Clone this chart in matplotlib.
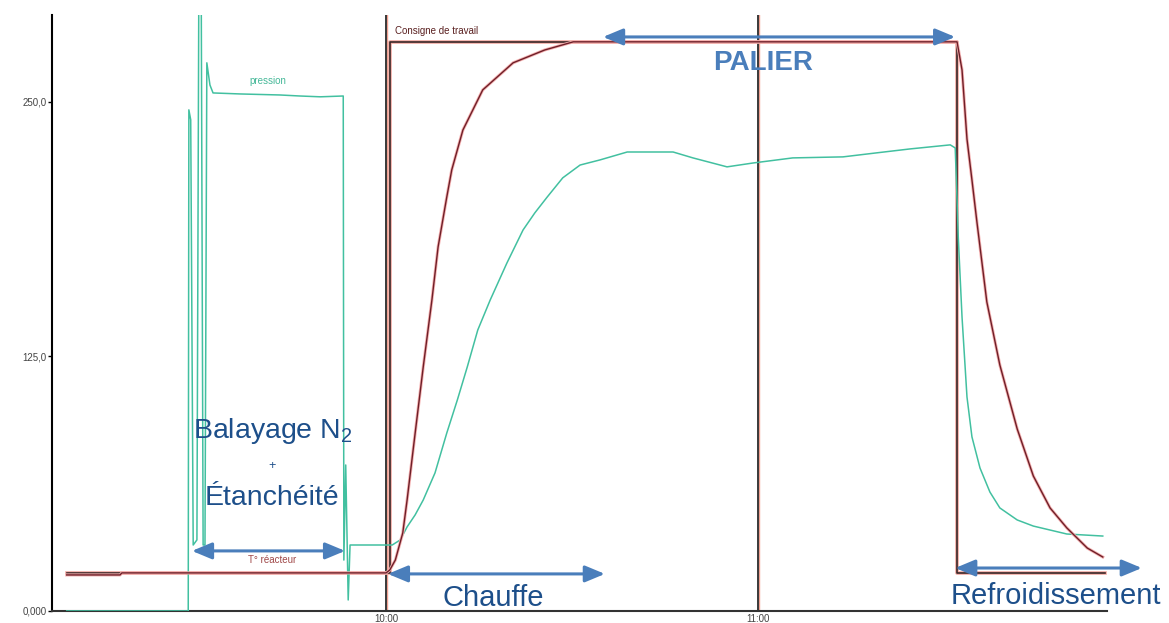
import matplotlib
matplotlib.use("Agg")
import matplotlib.pyplot as plt
from matplotlib.ticker import FuncFormatter

plt.rcParams['font.family'] = ['Liberation Sans', 'DejaVu Sans']
plt.rcParams['mathtext.fontset'] = 'custom'
plt.rcParams['mathtext.rm'] = 'Liberation Sans'

# time in minutes since midnight
t_consigne = [548.5, 600.6, 600.6, 692.1, 692.1, 716.0]
v_consigne = [18.7, 18.7, 279.5, 279.5, 18.7, 18.7]

t_reacteur = [548.5, 557.1, 557.4, 600.0, 600.6, 601.5, 602.7, 603.4, 604.7, 606.0,
              607.4, 608.4, 609.8, 610.6, 612.4, 615.6, 620.5, 625.6, 630.2, 692.1,
              692.9, 693.7, 694.5, 695.3, 696.9, 699.0, 701.8, 704.4, 707.1, 709.8,
              713.1, 715.6]
v_reacteur = [17.7, 17.7, 18.7, 18.7, 20.1, 25.0, 38.3, 54.5, 87.4, 119.8,
              152.7, 178.8, 203.3, 216.6, 236.2, 255.9, 269.2, 275.5, 279.5, 279.5,
              265.7, 231.8, 211.7, 191.1, 151.8, 120.8, 89.4, 66.3, 50.6, 40.8,
              30.9, 26.5]

t_pression = [548.5, 568.1, 568.2, 568.5, 568.9, 569.5, 569.8, 570.2, 570.5, 570.8,
              571.1, 571.6, 572.1, 576.5, 582.9, 586.1, 589.4, 593.1, 593.2, 593.5,
              593.9, 594.2, 601.0, 602.3, 603.4, 604.7, 606.0, 607.9, 609.8, 611.5,
              613.1, 614.8, 616.8, 619.5, 622.1, 624.0, 626.0, 628.5, 631.3, 634.5,
              638.9, 646.3, 649.5, 655.0, 659.2, 665.6, 673.7, 679.2, 684.5, 691.0,
              691.8, 692.1, 692.3, 692.9, 693.7, 694.5, 695.8, 697.4, 699.0, 701.8,
              704.4, 709.8, 715.6]
v_pression = [0.0, 0.0, 246.1, 241.2, 32.4, 34.9, 300.0, 300.0, 32.4, 32.4,
              269.2, 258.3, 254.4, 253.9, 253.4, 252.9, 252.5, 252.9, 25.0, 71.7,
              5.4, 32.4, 32.4, 34.9, 41.3, 47.2, 54.5, 67.8, 87.4, 103.6,
              119.8, 138.0, 152.7, 170.9, 187.1, 195.5, 203.3, 212.7, 219.0, 221.5,
              225.4, 225.4, 222.5, 218.1, 220.0, 222.5, 223.0, 225.0, 226.9, 228.9,
              227.4, 201.9, 183.2, 144.4, 105.1, 85.5, 70.2, 58.4, 50.6, 44.7,
              41.7, 37.8, 36.8]

hours = [600, 660]
yticks = [0, 125, 250]
ytick_labels = ["0,000", "125,0", "250,0"]

fig = plt.figure()
fig.set_size_inches(11.69, 6.23)
ax = fig.add_axes([0.0445, 0.0193, 0.9025, 0.9567])
ax.set_xlim(546.13, 716.29)
ax.set_ylim(0, 292.7)

for s in ['top', 'right']:
    ax.spines[s].set_visible(False)
ax.spines['left'].set_linewidth(1.5)
ax.spines['bottom'].set_linewidth(1.5)
ax.spines['bottom'].set_color('#333333')

# hour grid lines with the reddish fringe of the scanned print
for h in hours:
    ax.axvline(h + 0.2, color='#f0a090', lw=1.0, zorder=1)
    ax.axvline(h, color='#2a2a2a', lw=1.3, zorder=2)

ax.plot(t_consigne, v_consigne, color='#f2a8a0', lw=2.6, zorder=3)
ax.plot(t_consigne, v_consigne, color='#3a2828', lw=1.2, zorder=4)
ax.plot(t_pression, v_pression, color='#42c0a0', lw=1.1, zorder=5)
ax.plot(t_reacteur, v_reacteur, color='#f4b0b0', lw=2.2, zorder=6)
ax.plot(t_reacteur, v_reacteur, color='#6e1f28', lw=1.0, zorder=7)

ax.set_yticks(yticks)
ax.set_yticklabels(ytick_labels, fontsize=7, color='#444444')
ax.tick_params(axis='y', length=3, width=1, pad=1)
ax.set_xticks(hours)
ax.xaxis.set_major_formatter(FuncFormatter(lambda m, p: f"{int(m // 60)}:{int(m % 60):02d}"))
ax.tick_params(axis='x', length=0, pad=2, labelsize=7, labelcolor='#444444')

# small recorder labels
ax.text(601.45, 284.9, "Consigne de travail", fontsize=7, color='#5a2020', ha='left', va='center')
ax.text(580.97, 260.3, "pression", fontsize=7, color='#45b898', ha='center', va='center')
ax.text(581.6, 25.0, "T° réacteur", fontsize=7, color='#a04848', ha='center', va='center')

# annotations
arrow_blue = '#4a7ebb'
text_blue = '#1d4f8a'
arrows = [((568.7, 29.5), (593.4, 29.5)),
          ((600.3, 18.2), (635.3, 18.2)),
          ((635.0, 281.9), (691.8, 281.9)),
          ((691.8, 21.1), (721.9, 21.1))]
for a, b in arrows:
    ax.annotate("", xy=b, xytext=a, annotation_clip=False, zorder=10,
                arrowprops=dict(arrowstyle='<|-|>,head_length=0.6,head_width=0.25',
                                mutation_scale=20, lw=2.2, color=arrow_blue,
                                shrinkA=0, shrinkB=0))

ax.text(660.8, 265.7, "PALIER", fontsize=20, fontweight='bold', color=arrow_blue,
        ha='center', va='baseline', zorder=11)
ax.text(581.7, 85.0, r"Balayage N$_{\mathrm{2}}$", fontsize=20.5, color=text_blue,
        ha='center', va='baseline', zorder=11)
ax.text(581.6, 71.2, "+", fontsize=9, color=text_blue, ha='center', va='center', zorder=11)
ax.text(581.6, 52.1, "Étanchéité", fontsize=20.5, color=text_blue,
        ha='center', va='baseline', zorder=11)
ax.text(617.3, 2.5, "Chauffe", fontsize=21, color=text_blue,
        ha='center', va='baseline', zorder=11)
ax.text(708.1, 3.4, "Refroidissement", fontsize=21, color=text_blue,
        ha='center', va='baseline', zorder=11, clip_on=False)

plt.savefig("out.png", dpi=100)
